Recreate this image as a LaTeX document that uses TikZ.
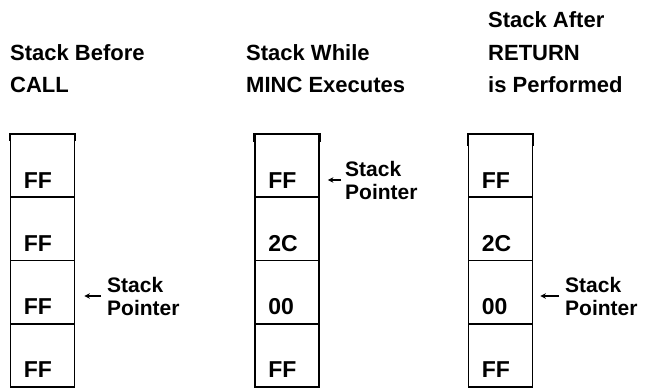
\documentclass[tikz,border=0pt]{standalone}
\usepackage{fontspec}
\setmainfont{Liberation Sans}
\usetikzlibrary{arrows.meta}
\begin{document}
\begin{tikzpicture}[x=1pt,y=-1pt,
  title/.style={anchor=base west,inner sep=0pt,font=\fontsize{22}{32}\selectfont\bfseries},
  cell/.style={draw,line width=1.8pt,minimum width=64pt,minimum height=63.25pt,inner sep=0pt},
  celltext/.style={anchor=base west,inner sep=0pt,font=\fontsize{23}{26}\selectfont\bfseries},
  ptrlabel/.style={anchor=west,align=left,inner sep=0pt,font=\fontsize{21}{23}\selectfont\bfseries},
  ptr/.style={line width=1.3pt,-{Stealth[length=5.5pt,width=5.5pt]}},
  tick/.style={line width=1.8pt}]
\useasboundingbox (0,0) rectangle (653,389);
% titles
\node[title] (t1a) at (10,60) {Stack Before};
\node[title] (t1b) at (10,92) {CALL};
\node[title] (t2a) at (246,60) {Stack While};
\node[title] (t2b) at (246,92) {MINC Executes};
\node[title] (t3a) at (488,27) {Stack After};
\node[title] (t3b) at (488,60) {RETURN};
\node[title] (t3c) at (488,92) {is Performed};
% columns
\foreach \c/\x in {1/42.5,2/287,3/500.5}{
  \foreach \r/\y in {1/165.6,2/228.9,3/292.1,4/355.4}{
    \node[cell] (c\c\r) at (\x,\y) {};
  }
}
% cell texts
\foreach \c/\r/\t in {1/1/FF,1/2/FF,1/3/FF,1/4/FF,2/1/FF,2/2/2C,2/3/00,2/4/FF,3/1/FF,3/2/2C,3/3/00,3/4/FF}{
  \node[celltext] (x\c\r) at ([xshift=14pt,yshift=10pt]c\c\r.south west) {\t};
}
% ticks above the columns
\coordinate (k1l) at ([yshift=-8pt]c11.north west);
\coordinate (k1r) at ([yshift=-8pt]c11.north east);
\coordinate (k2l) at ([yshift=-9pt]c21.north west);
\coordinate (k2r) at ([yshift=-9pt]c21.north east);
\coordinate (k3l) at ([yshift=-13pt]c31.north west);
\coordinate (k3r) at ([yshift=-13pt]c31.north east);
\draw[tick] (c11.north west) -- (k1l) (c11.north east) -- (k1r);
\draw[tick] (c21.north west) -- (k2l) (c21.north east) -- (k2r);
\draw[tick] (c31.north west) -- (k3l) (c31.north east) -- (k3r);
% stack pointers
\node[ptrlabel] (p1) at (107,296) {Stack\\Pointer};
\node[ptrlabel] (p2) at (345,180) {Stack\\Pointer};
\node[ptrlabel] (p3) at (565,296) {Stack\\Pointer};
\draw[ptr] ([xshift=-6pt]p1.west) -- ([xshift=9pt]p1.west -| c13.east);
\draw[ptr] ([xshift=-4pt]p2.west) -- ([xshift=8pt]p2.west -| c21.east);
\draw[ptr] ([xshift=-6pt]p3.west) -- ([xshift=7pt]p3.west -| c33.east);
\end{tikzpicture}
\end{document}
